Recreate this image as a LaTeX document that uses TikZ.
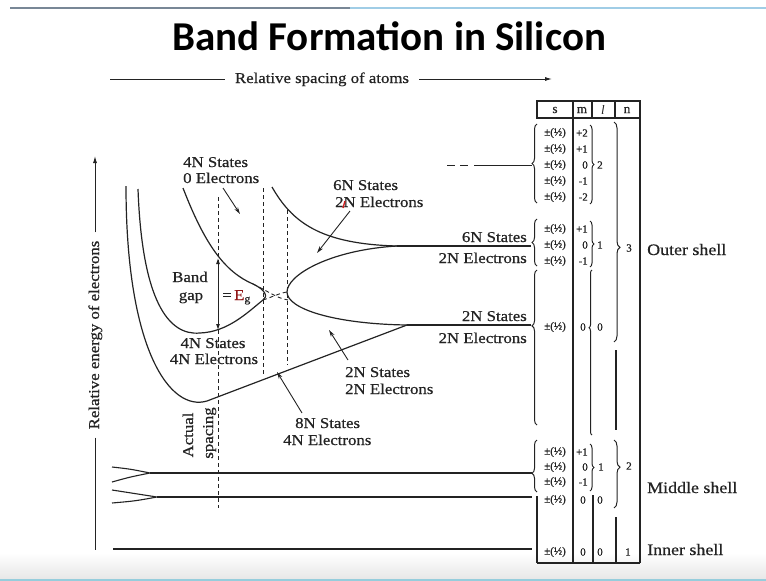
\documentclass[tikz,border=0pt]{standalone}
\usepackage{fontspec}
\setmainfont{Liberation Serif}
\newfontfamily\titlefont{Carlito}
\newfontfamily\lbl[FakeStretch=1.12, FakeBold=0.6]{Liberation Serif}
\newfontfamily\tabfont[FakeBold=0.5]{Liberation Serif}
\usetikzlibrary{arrows.meta,decorations.pathreplacing,calc}

\definecolor{ink}{RGB}{35,35,35}
\definecolor{ruleL}{RGB}{120,135,150}
\definecolor{ruleR}{RGB}{160,205,230}
\definecolor{footline}{RGB}{150,205,220}
\definecolor{markred}{RGB}{205,30,30}

\tikzset{
  x=1pt, y=-1pt,
  band/.style={draw=ink, line width=1.2pt},
  level/.style={draw=ink, line width=1.1pt},
  guide/.style={draw=ink, line width=0.9pt, dash pattern=on 4pt off 3pt},
  pointer/.style={draw=ink, line width=0.9pt, -{Stealth[length=7pt,width=4pt]}},
  lab/.style={font=\lbl\fontsize{15}{17}\selectfont, inner sep=0pt, text=ink},
  shell/.style={font=\lbl\fontsize{16}{18}\selectfont, inner sep=0pt, text=ink, anchor=base west},
  tab/.style={font=\tabfont\fontsize{11}{12}\selectfont, inner sep=0pt, text=ink},
  head/.style={font=\tabfont\fontsize{13}{14}\selectfont, inner sep=0pt, text=ink},
  grid/.style={draw=ink, line width=1.1pt},
  lbrace/.style={draw=ink, line width=1pt, decorate, decoration={brace, amplitude=5pt, #1}},
  lbrace/.default={aspect=0.5},
}

\begin{document}
\begin{tikzpicture}
\useasboundingbox (0,0) rectangle (766,581);

% slide frame
\draw[ruleL, line width=1.3pt] (10,8) -- (350,8);
\draw[ruleR, line width=1.3pt] (350,8) -- (766,8);
\shade[top color=white, bottom color=black!9] (0,553) rectangle (766,578);
\fill[black!9] (0,578) rectangle (766,581);
\draw[footline, line width=1.2pt] (0,580) -- (766,580);

% title
\node[font=\titlefont\bfseries\fontsize{41}{46}\selectfont, anchor=base, inner sep=0pt] (title) at (389,50) {Band Formation in Silicon};

% horizontal axis
\node[lab, anchor=base] (xlab) at (322,83) {Relative spacing of atoms};
\coordinate (xl) at (110,79);
\coordinate (xr) at (552,79);
\draw[ink, line width=0.9pt] (xl) -- ($(xl -| xlab.west)+(-10,0)$);
\draw[ink, line width=0.9pt, -{Latex[length=7pt,width=4pt]}] ($(xr -| xlab.east)+(10,0)$) -- (xr);

% vertical axis
\node[lab, rotate=90, anchor=base] (ylab) at (99,335) {Relative energy of electrons};
\coordinate (yt) at (95,156);
\coordinate (yb) at (95,550);
\draw[ink, line width=0.9pt, -{Latex[length=7pt,width=4pt]}] ($(yt |- ylab.east)+(0,-8)$) -- (yt);
\draw[ink, line width=0.9pt] ($(yb |- ylab.west)+(0,8)$) -- (yb);

% key points of the band curves
\coordinate (c1s) at (126,186);
\coordinate (c1m) at (207,401);
\coordinate (meetL) at (407,325);
\coordinate (c2s) at (138,189);
\coordinate (c2m) at (200,333);
\coordinate (noseL) at (263,300);
\coordinate (c3s) at (183,188);
\coordinate (c3n) at (253,284);
\coordinate (noseR) at (287,292);
\coordinate (meetU) at (397,246);
\coordinate (c5s) at (272,187);

% outer band edges
\draw[band] (c1s) .. controls (126,350) and (170,412) .. (c1m) -- (meetL);
\draw[band] (c2s) .. controls (142,300) and (168,336) .. (c2m)
               .. controls (228,332) and (248,312) .. (noseL);
\draw[band] (c3s) .. controls (205,245) and (225,272) .. (c3n)
               .. controls (266,290) and (268,297) .. (noseL);
\draw[band] (noseR) .. controls (287,275) and (330,250) .. (meetU);
\draw[band] (noseR) .. controls (287,309) and (335,324) .. (meetL);
\draw[band] (c5s) .. controls (292,222) and (320,244) .. (meetU);
% crossing of the bands between the two spacings
\draw[ink, line width=0.9pt, dash pattern=on 4pt off 3pt] (noseL) .. controls (272,297) and (280,293) .. (noseR);
\draw[ink, line width=0.9pt, dash pattern=on 4pt off 3pt] (c3n) .. controls (268,291) and (276,298) .. (288,300);

% band levels running to the table
\coordinate (lv6) at (531,246);
\coordinate (lv2) at (531,325);
\draw[level] (meetU) -- (lv6);
\draw[level] (meetL) -- (lv2);
\coordinate (dl) at (532,165);
\draw[ink, line width=1pt] (447,165) -- (455,165) (460,165) -- (468,165) (474,165) -- (dl);

% inner levels
\coordinate (fa1) at (112,467);
\coordinate (fa2) at (112,482);
\coordinate (fa) at (150,473);
\coordinate (fb1) at (112,490);
\coordinate (fb2) at (112,503);
\coordinate (fb) at (157,497);
\coordinate (lvm1) at (532,473);
\coordinate (lvm2) at (532,497);
\coordinate (lvi0) at (113,549);
\coordinate (lvi) at (532,549);
\draw[level] (fa1) .. controls (130,469) .. (fa) .. controls (130,477) .. (fa2);
\draw[level] (fa) -- (lvm1);
\draw[level] (fb1) .. controls (135,493) .. (fb) .. controls (135,501) .. (fb2);
\draw[level] (fb) -- (lvm2);
\draw[level] (lvi0) -- (lvi);

% spacing guides
\draw[guide] (218,197) -- (218,508);
\draw[guide] (263,188) -- (263,375);
\draw[guide] (287,210) -- (287,365);
\coordinate (gt) at (218,258);
\coordinate (gb) at (218,330);
\draw[ink, line width=0.9pt, {Latex[length=6pt,width=4pt]}-{Latex[length=6pt,width=4pt]}] (gt) -- (gb);

% labels inside the plot
\node[lab, anchor=base west] (l4a) at (183,167) {4N States};
\node[lab, anchor=base west] (l4b) at (183,183) {0 Electrons};
\node[lab, anchor=base west] (l6a) at (333,190) {6N States};
\node[lab, anchor=base west] (l6b) at (335,207) {2N Electrons};
\draw[markred, line width=1.4pt] (345,201) -- (343,208);
\node[lab, anchor=base] (bg1) at (190,282) {Band};
\node[lab, anchor=base] (bg2) at (191,300) {gap};
\node[lab, anchor=base west] (eg) at (222,300) {=\,\textcolor{markred!70!black}{E}\textsubscript{g}};
\node[lab, anchor=base] (v4a) at (213,348) {4N States};
\node[lab, anchor=base] (v4b) at (214,364) {4N Electrons};
\node[lab, anchor=base west] (v2a) at (345,377) {2N States};
\node[lab, anchor=base west] (v2b) at (345,394) {2N Electrons};
\node[lab, anchor=base west] (v8a) at (295,428) {8N States};
\node[lab, anchor=base west] (v8b) at (283,445) {4N Electrons};
\node[lab, rotate=90, anchor=base] (as1) at (193,435) {Actual};
\node[lab, rotate=90, anchor=base] (as2) at (213,433) {spacing};

\node[lab, anchor=base east] (r6a) at (527,242) {6N States};
\node[lab, anchor=base east] (r6b) at (527,263) {2N Electrons};
\node[lab, anchor=base east] (r2a) at (527,321) {2N States};
\node[lab, anchor=base east] (r2b) at (527,343) {2N Electrons};

% pointers
\coordinate (p1) at (240,214);
\coordinate (p2) at (317,253);
\coordinate (p3) at (329,330);
\coordinate (p4) at (277,372);
\draw[pointer] (223,188) -- (p1);
\draw[pointer] (350,211) -- (p2);
\draw[pointer] (348,360) -- (p3);
\draw[pointer] (302,413) -- (p4);

% quantum number table
\draw[grid] (537,101) rectangle (640,118);
\draw[grid] (592,101) -- (592,118);
\draw[grid] (615,101) -- (615,118);
\node[head] (hs) at (555,110) {s};
\node[head] (hm) at (582,110) {m};
\node[head, font=\itshape\fontsize{13}{14}\selectfont] (hl) at (603,110) {l};
\node[head] (hn) at (627,110) {n};
\draw[grid] (573,101) -- (573,563);
\draw[grid, line width=1.6pt] (640,101) -- (640,563);
\draw[grid] (537,563) -- (640,563);

% left braces of the s column
\draw[lbrace] (537,203) -- (537,124);
\draw[lbrace] (537,266) -- (537,219);
\draw[lbrace={aspect=0.64}] (537,425) -- (537,270);
\draw[lbrace={aspect=0.36}] (537,492) -- (537,440);
\draw[grid] (537,496) -- (537,563);

% spin entries
\foreach \yy/\mm [count=\i] in {133/+2,149/+1,165/0,181/-1,197/-2,229/+1,245/0,261/-1}
  { \node[tab] (sp\i) at (555,\yy) {±(½)};
    \node[tab, anchor=east] (mv\i) at (588,\yy) {\mm}; }
\node[tab] (sp9) at (555,327) {±(½)};
\node[tab] (mv9) at (583,327) {0};
\node[tab] (lv9) at (600,327) {0};
\foreach \yy/\mm [count=\i from 10] in {452/+1,467/0,482/-1}
  { \node[tab] (sp\i) at (555,\yy) {±(½)};
    \node[tab, anchor=east] (mv\i) at (588,\yy) {\mm}; }
\node[tab] (sp13) at (555,500) {±(½)};
\node[tab] (mv13) at (583,500) {0};
\node[tab] (lv13) at (600,500) {0};
\node[tab] (sp14) at (555,552) {±(½)};
\node[tab] (mv14) at (583,552) {0};
\node[tab] (lv14) at (600,552) {0};
\node[tab] (nv14) at (628,552) {1};

% l braces
\draw[lbrace={amplitude=4pt}] (590,125) -- (590,204);
\node[tab] (l2) at (600,165) {2};
\draw[lbrace={amplitude=4pt}] (590,221) -- (590,267);
\node[tab] (l1) at (600,245) {1};
\draw[lbrace={aspect=0.65, amplitude=3pt}] (592,435) -- (592,270);
\draw[lbrace={amplitude=4pt}] (590,444) -- (590,491);
\node[tab] (l1m) at (601,467) {1};
\draw[grid] (593,495) -- (593,563);

% n braces
\draw[lbrace={aspect=0.57, amplitude=6pt}] (614,122) -- (614,342);
\node[tab] (n3) at (629,248) {3};
\draw[grid] (616,350) -- (616,430);
\draw[lbrace={aspect=0.4, amplitude=6pt}] (614,440) -- (614,508);
\node[tab] (n2) at (629,466) {2};
\draw[grid] (616,517) -- (616,563);

% shell names
\node[shell] (outer) at (647,255) {Outer shell};
\node[shell] (middle) at (647,493) {Middle shell};
\node[shell] (inner) at (647,555) {Inner shell};
\end{tikzpicture}
\end{document}
